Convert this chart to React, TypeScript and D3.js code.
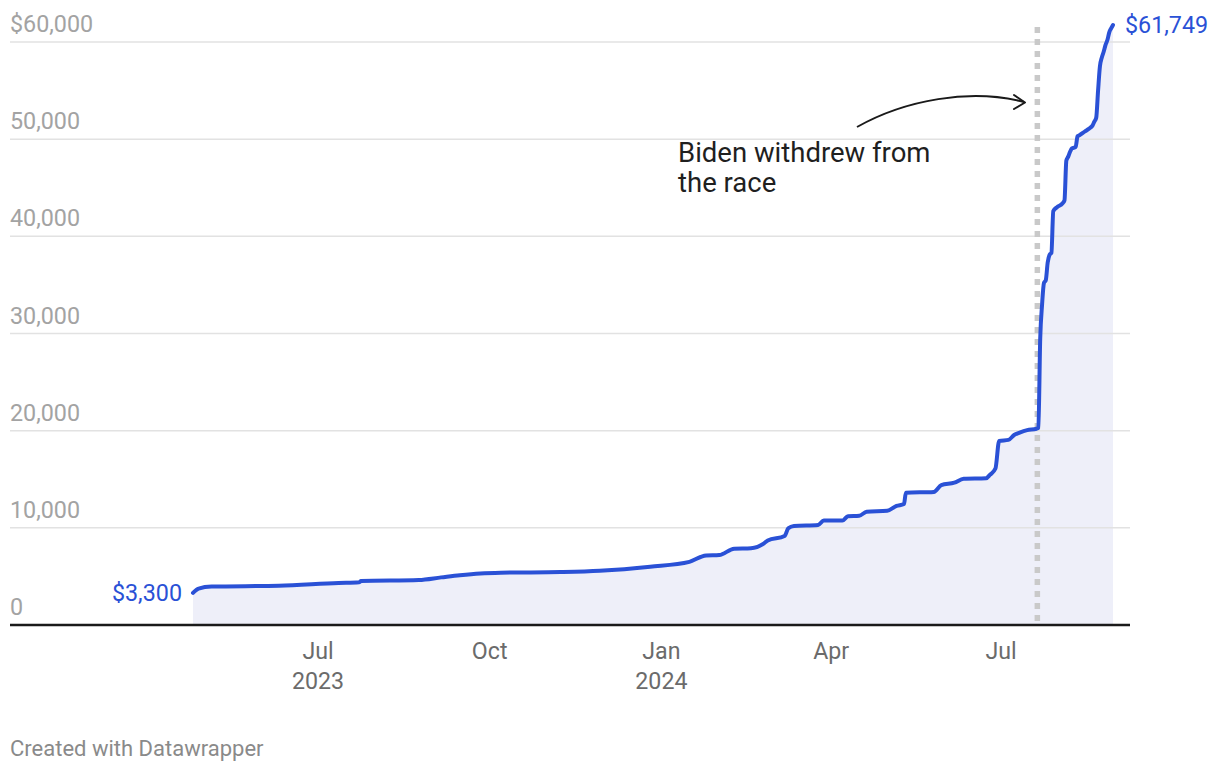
import React from "react";
import * as d3 from "d3";

const dates: string[] = [
  "2023-04-25","2023-04-28","2023-05-05","2023-06-10","2023-07-12","2023-07-23","2023-07-24","2023-08-24",
  "2023-09-05","2023-09-15","2023-09-26","2023-10-07","2023-11-08","2023-11-29","2023-12-26",
  "2024-01-16","2024-01-22","2024-01-25","2024-02-01","2024-02-09","2024-02-18","2024-02-25","2024-02-27",
  "2024-03-07","2024-03-09","2024-03-12","2024-03-25","2024-03-28","2024-04-07","2024-04-10","2024-04-16",
  "2024-04-20","2024-05-01","2024-05-06","2024-05-10","2024-05-11","2024-05-26","2024-05-30","2024-06-06",
  "2024-06-11","2024-06-23","2024-06-25","2024-06-28","2024-06-30","2024-07-05","2024-07-08","2024-07-11",
  "2024-07-15","2024-07-20","2024-07-21","2024-07-22","2024-07-23","2024-07-24","2024-07-25","2024-07-26",
  "2024-07-27","2024-07-28","2024-07-29","2024-07-31","2024-08-03","2024-08-04","2024-08-05","2024-08-06",
  "2024-08-07","2024-08-08","2024-08-10","2024-08-11","2024-08-12","2024-08-15","2024-08-17","2024-08-18",
  "2024-08-19","2024-08-20","2024-08-21","2024-08-22","2024-08-23","2024-08-24","2024-08-25","2024-08-26",
  "2024-08-27","2024-08-28","2024-08-29","2024-08-30",
];

const values: number[] = [
  3300, 3750, 3950, 4050, 4330, 4400, 4520, 4630,
  4900, 5120, 5300, 5380, 5450, 5580, 6000,
  6500, 7000, 7150, 7200, 7850, 7900, 8400, 8700,
  9150, 9950, 10200, 10300, 10750, 10750, 11200, 11250,
  11650, 11750, 12250, 12450, 13600, 13700, 14400, 14650,
  15050, 15100, 15450, 16100, 18950, 19050, 19550, 19800,
  20050, 20200, 20300, 29500, 33000, 35200, 35500, 37300,
  38100, 38300, 42600, 43000, 43400, 43700, 47800, 48200,
  48700, 49050, 49200, 50300, 50400, 50800, 51050, 51200,
  51400, 51800, 52200, 55000, 57500, 58400, 59000, 59700,
  60200, 61000, 61400, 61749,
];

const yTicks: number[] = [0, 10000, 20000, 30000, 40000, 50000, 60000];
const xTickDates: string[] = ["2023-07-01", "2023-10-01", "2024-01-01", "2024-04-01", "2024-07-01"];
const xTickMonths: string[] = ["Jul", "Oct", "Jan", "Apr", "Jul"];
const xTickYears: string[] = ["2023", "", "2024", "", ""];
const eventDate = "2024-07-21";
const annotationLines: string[] = ["Biden withdrew from", "the race"];

const parse = d3.utcParse("%Y-%m-%d");
const fmtMoney = (v: number) => "$" + d3.format(",")(v);

export default function App() {
  const W = 1220, H = 772;
  const data = dates.map((d, i) => ({ date: parse(d) as Date, value: values[i] }));
  const x = d3.scaleUtc()
    .domain([data[0].date, data[data.length - 1].date])
    .range([193, 1113]);
  const y = d3.scaleLinear().domain([0, 60000]).range([625, 42]);
  const gridLeft = 10, gridRight = 1130;

  const line = d3.line<{ date: Date; value: number }>()
    .x(d => x(d.date))
    .y(d => y(d.value))
    .curve(d3.curveMonotoneX);
  const area = d3.area<{ date: Date; value: number }>()
    .x(d => x(d.date))
    .y0(y(0))
    .y1(d => y(d.value))
    .curve(d3.curveMonotoneX);

  const blue = "#2a51d6";
  const first = data[0];
  const last = data[data.length - 1];
  const ex = x(parse(eventDate) as Date) - 1;
  const font = "Roboto, 'Noto Sans', sans-serif";

  return (
    <svg width={W} height={H} style={{ position: "absolute", left: 0, top: 0, background: "#fff" }}
      fontFamily={font}>
      <path d={area(data) || ""} fill="#eeeff9" />
      {yTicks.filter(t => t !== 0).map(t => (
        <line key={t} x1={gridLeft} x2={gridRight} y1={y(t)} y2={y(t)} stroke="#e2e2e2" strokeWidth={1.5} />
      ))}
      {yTicks.map(t => (
        <text key={"l" + t} x={gridLeft} y={y(t) - 10} fontSize={23.3} fill="#a3a3a3">
          {t === 60000 ? fmtMoney(t) : d3.format(",")(t)}
        </text>
      ))}
      <line x1={ex} x2={ex} y1={27} y2={623} stroke="#c9c9c9" strokeWidth={5.5} strokeDasharray="6 6" />
      <path d={line(data) || ""} fill="none" stroke={blue} strokeWidth={4} strokeLinejoin="round" strokeLinecap="round" />
      <line x1={gridLeft} x2={gridRight} y1={y(0)} y2={y(0)} stroke="#1a1a1a" strokeWidth={2.5} />
      {xTickDates.map((d, i) => {
        const xx = x(parse(d) as Date);
        return (
          <g key={d}>
            <text x={xx} y={659} textAnchor="middle" fontSize={23.2} fill="#6b6b6b">{xTickMonths[i]}</text>
            {xTickYears[i] && (
              <text x={xx} y={689} textAnchor="middle" fontSize={23.2} fill="#6b6b6b">{xTickYears[i]}</text>
            )}
          </g>
        );
      })}
      <text x={x(first.date) - 11} y={y(first.value)} dy="0.35em" textAnchor="end" fontSize={23.3} fill={blue}>
        {fmtMoney(first.value)}
      </text>
      <text x={x(last.date) + 12} y={y(last.value)} dy="0.35em" textAnchor="start" fontSize={23.3} fill={blue}>
        {fmtMoney(last.value)}
      </text>
      {annotationLines.map((s, i) => (
        <text key={s} x={678} y={162 + i * 30} fontSize={27.5} fill="#1f1f1f">{s}</text>
      ))}
      <path d="M857,127 C905,100 970,88 1024,102" fill="none" stroke="#1a1a1a" strokeWidth={2} />
      <path d="M1014,95 L1025,102.5 L1014,109" fill="none" stroke="#1a1a1a" strokeWidth={2} strokeLinecap="round" strokeLinejoin="round" />
      <text x={10} y={756} fontSize={22} fill="#8a8a8a">Created with Datawrapper</text>
    </svg>
  );
}
